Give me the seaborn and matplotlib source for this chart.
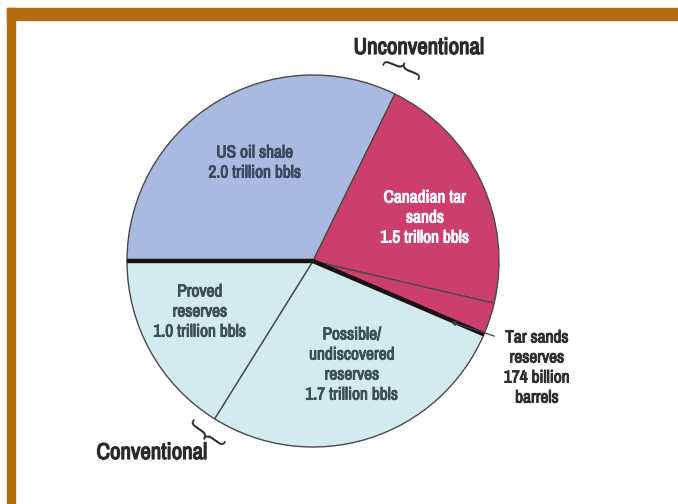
import numpy as np
import matplotlib
matplotlib.use("Agg")
import matplotlib.pyplot as plt
import matplotlib.patheffects as pe
from matplotlib import font_manager
import seaborn as sns

# reserves in trillion barrels, clockwise from 9 o'clock
categories = ["US oil shale", "Canadian tar sands", "Tar sands reserves",
              "Possible/undiscovered reserves", "Proved reserves"]
values = [2.0, 1.5 - 0.174, 0.174, 1.7, 1.0]
colors = ["#aab9e0", "#cc3f6d", "#cc3f6d", "#d3ebee", "#d3ebee"]
labels = ["US oil shale\n2.0 trillion bbls",
          "Canadian tar\nsands\n1.5 trillon bbls",
          "",
          "Possible/\nundiscovered\nreserves\n1.7 trillion bbls",
          "Proved\nreserves\n1.0 trillion bbls"]
label_colors = ["#3b4a5e", "white", "white", "#3e5052", "#3e5052"]
label_pos = [(255, 163), (425, 218), None, (352, 365), (200, 312)]

sns.set_theme(style="white")
names = sorted({f.name for f in font_manager.fontManager.ttflist})
cond = [n for n in names if "Condensed" in n or "Narrow" in n]
fam = cond[0] if cond else "DejaVu Sans"
plt.rcParams['font.family'] = [fam, 'DejaVu Sans']


def bold(c, w=0.7):
    return [pe.withStroke(linewidth=w, foreground=c)]


fig = plt.figure(figsize=(6.78, 5.04), dpi=100)
ax = fig.add_axes([0, 0, 1, 1])

cx, cy, r = 313, 261, 186

# pie in an inverted-y axis: counterclock=True goes visually clockwise
wedges, _ = ax.pie(values, colors=colors, startangle=-180, counterclock=True,
                   center=(cx, cy), radius=r, frame=True,
                   wedgeprops=dict(edgecolor="#4a4a4a", linewidth=1.0))
ax.set_xlim(0, 678)
ax.set_ylim(504, 0)
ax.axis("off")
ax.set_aspect("equal")

# thick lines split conventional / unconventional
total = sum(values)
cum = np.cumsum(values) / total * 360
for ang in [0, cum[2]]:
    a = np.deg2rad(180 + ang)
    ax.plot([cx, cx + r * np.cos(a)], [cy, cy + r * np.sin(a)],
            color="#1a1212", lw=3.2, solid_capstyle="butt", zorder=5)

for txt, pos, c in zip(labels, label_pos, label_colors):
    if pos is None:
        continue
    ax.text(pos[0], pos[1], txt, ha="center", va="center", color=c,
            fontsize=12.5, linespacing=1.42, zorder=6,
            path_effects=bold(c))

ax.annotate("", xy=(448, 321), xytext=(497, 337),
            arrowprops=dict(arrowstyle="-|>", color="#2f4444", lw=0.9,
                            mutation_scale=7), zorder=6)
ax.text(537, 368, "Tar sands\nreserves\n174 billion\nbarrels", ha="center",
        va="center", color="#2e2e2e", fontsize=12.5, linespacing=1.42,
        path_effects=bold("#2e2e2e"))

ax.text(419, 48, "Unconventional", ha="center", va="center", color="#2a2a2a",
        fontsize=16.5, path_effects=bold("#2a2a2a", 0.9))
ax.text(152, 453, "Conventional", ha="center", va="center", color="#2a2a2a",
        fontsize=16.5, path_effects=bold("#2a2a2a", 0.9))

# braces along the rim
ax.text(392, 73, "{", ha="center", va="center", rotation=-112, fontsize=30,
        color="#2a2a2a", family="DejaVu Sans", fontweight="light")
ax.text(205, 428, "{", ha="center", va="center", rotation=55, fontsize=30,
        color="#2a2a2a", family="DejaVu Sans", fontweight="light")

# brown frame
frame_c = "#b36c0f"
fig.patches.append(plt.Rectangle((7 / 678, 1 - 20 / 504), 1, 12 / 504,
                                 transform=fig.transFigure, color=frame_c))
fig.patches.append(plt.Rectangle((7 / 678, 0), 8 / 678, 1 - 8 / 504,
                                 transform=fig.transFigure, color=frame_c))

fig.savefig("out.png", dpi=100, facecolor="white")
